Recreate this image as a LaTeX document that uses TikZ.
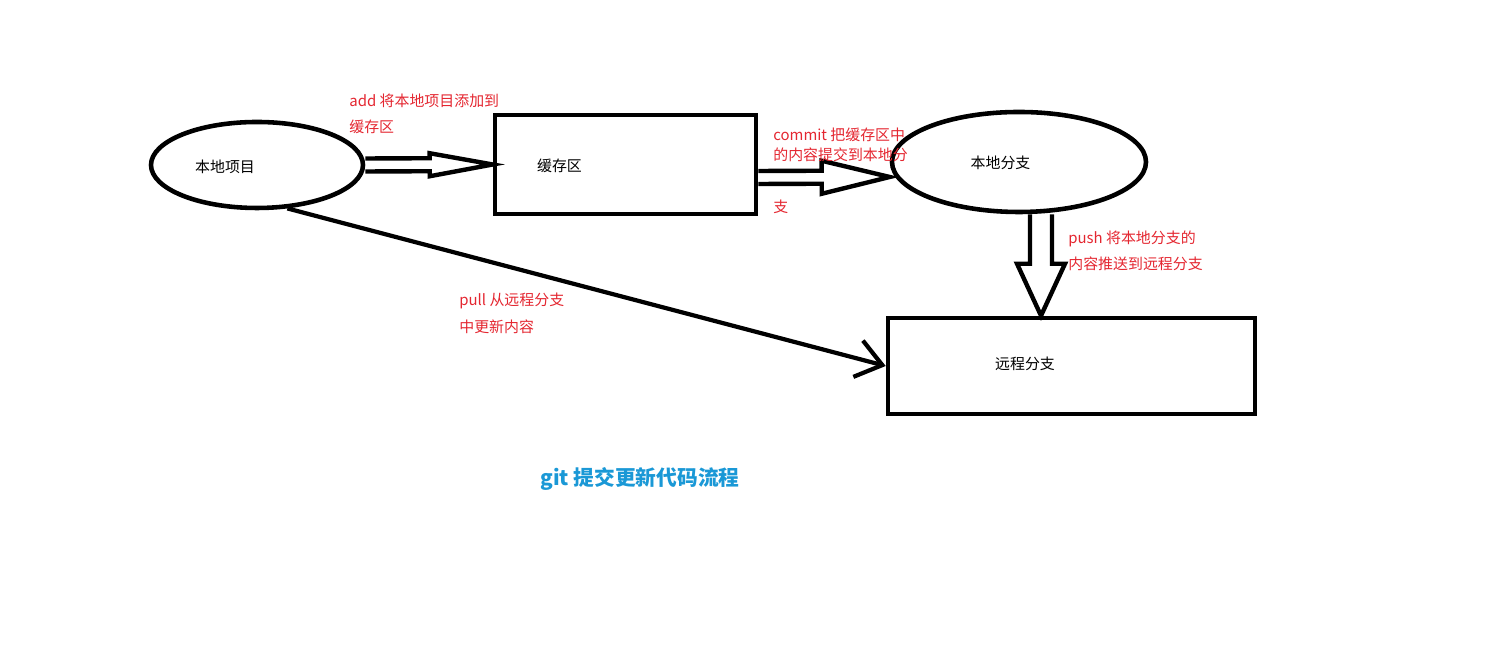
\documentclass[tikz,border=0pt]{standalone}
\usepackage{fontspec}
\setmainfont{Noto Sans CJK SC}
\usepackage{xcolor}
\usepackage{tikz}
\usetikzlibrary{calc, shapes.geometric, positioning, arrows.meta}

\definecolor{notered}{RGB}{228,38,48}
\definecolor{titleblue}{RGB}{26,152,214}

% hollow (outlined) arrow: start, tip, shaft half width, head half width, head length
\newcommand{\fatarrow}[5]{%
    \coordinate (fa-h) at ($(#2)!#5!(#1)$);
    \draw[hollow] ($(#1)!#3!90:(#2)$) -- ($(fa-h)!#3!90:(#2)$) -- ($(fa-h)!#4!90:(#2)$)
        -- (#2) -- ($(fa-h)!#4!-90:(#2)$) -- ($(fa-h)!#3!-90:(#2)$) -- ($(#1)!#3!-90:(#2)$);
}

\begin{document}
\begin{tikzpicture}[>=stealth,
    blob/.style={draw, ellipse, line width=2.6pt},
    stagebox/.style={draw, rectangle, line width=2.6pt},
    plain/.style={font=\fontsize{8.5}{10}\selectfont, inner sep=0pt},
    note/.style={text=notered, align=left, anchor=base west, inner sep=0pt},
    hollow/.style={line width=2.5pt},
    pullline/.style={line width=2.4pt, -{Straight Barb[length=0.5cm, width=0.75cm]}}]

    \useasboundingbox (0,0) rectangle (29.82,13.32);

    % =================================================================
    % 1. CAC KHOI: du an, vung dem, nhanh cuc bo, nhanh tu xa
    % =================================================================
    \node[blob, minimum width=4.24cm, minimum height=1.72cm] (loc) at (5.14,10.02) {};
    \node[stagebox, minimum width=5.22cm, minimum height=1.98cm] (stage) at (12.51,10.03) {};
    \node[blob, minimum width=5.08cm, minimum height=2.00cm] (branch) at (20.38,10.08) {};
    \node[stagebox, minimum width=7.34cm, minimum height=1.92cm] (remote) at (21.43,6.00) {};

    \node[plain] (loctext) at ([xshift=-0.64cm, yshift=-0.04cm]loc.center) {本地项目};
    \node[plain] (stagetext) at ([xshift=-1.32cm, yshift=-0.03cm]stage.center) {缓存区};
    \node[plain] (branchtext) at ([xshift=-0.37cm, yshift=-0.02cm]branch.center) {本地分支};
    \node[plain] (remotetext) at ([xshift=-0.93cm, yshift=0.04cm]remote.center) {远程分支};

    % =================================================================
    % 2. MUI TEN RONG VA DUONG PULL
    % =================================================================
    \fatarrow{loc.east}{stage.west}{0.13cm}{0.23cm}{1.26cm}

    \coordinate (commitstart) at ([yshift=-0.26cm]stage.east);
    \coordinate (commitend) at ([yshift=-0.3cm]branch.west);
    \fatarrow{commitstart}{commitend}{0.13cm}{0.33cm}{1.36cm}

    \coordinate (pushstart) at ([xshift=0.44cm]branch.south);
    \coordinate (pushend) at (pushstart |- remote.north);
    \fatarrow{pushstart}{pushend}{0.22cm}{0.48cm}{1.04cm}

    \draw[pullline] (loc.-55) -- (remote.west);

    % =================================================================
    % 3. CHU THICH (moc o dong cuoi)
    % =================================================================
    \node[note, font=\fontsize{8.5}{14.8}\selectfont] (addnote) at (6.98,10.66)
        {add 将本地项目添加到\\缓存区};
    \node[note, font=\fontsize{8.5}{11.4}\selectfont] (commitnote) at (15.46,10.10)
        {commit 把缓存区中\\的内容提交到本地分};
    \node[note, font=\fontsize{8.5}{11.4}\selectfont] (commitnotetail) at (15.46,9.06) {支};
    \node[note, font=\fontsize{8.5}{14.8}\selectfont] (pushnote) at (21.36,7.92)
        {push 将本地分支的\\内容推送到远程分支};
    \node[note, font=\fontsize{8.5}{15.4}\selectfont] (pullnote) at (9.18,6.66)
        {pull 从远程分支\\中更新内容};

    \node[text=titleblue, font=\fontsize{11.8}{14}\selectfont\bfseries] (title) at (12.8,3.74)
        {git 提交更新代码流程};

\end{tikzpicture}
\end{document}
